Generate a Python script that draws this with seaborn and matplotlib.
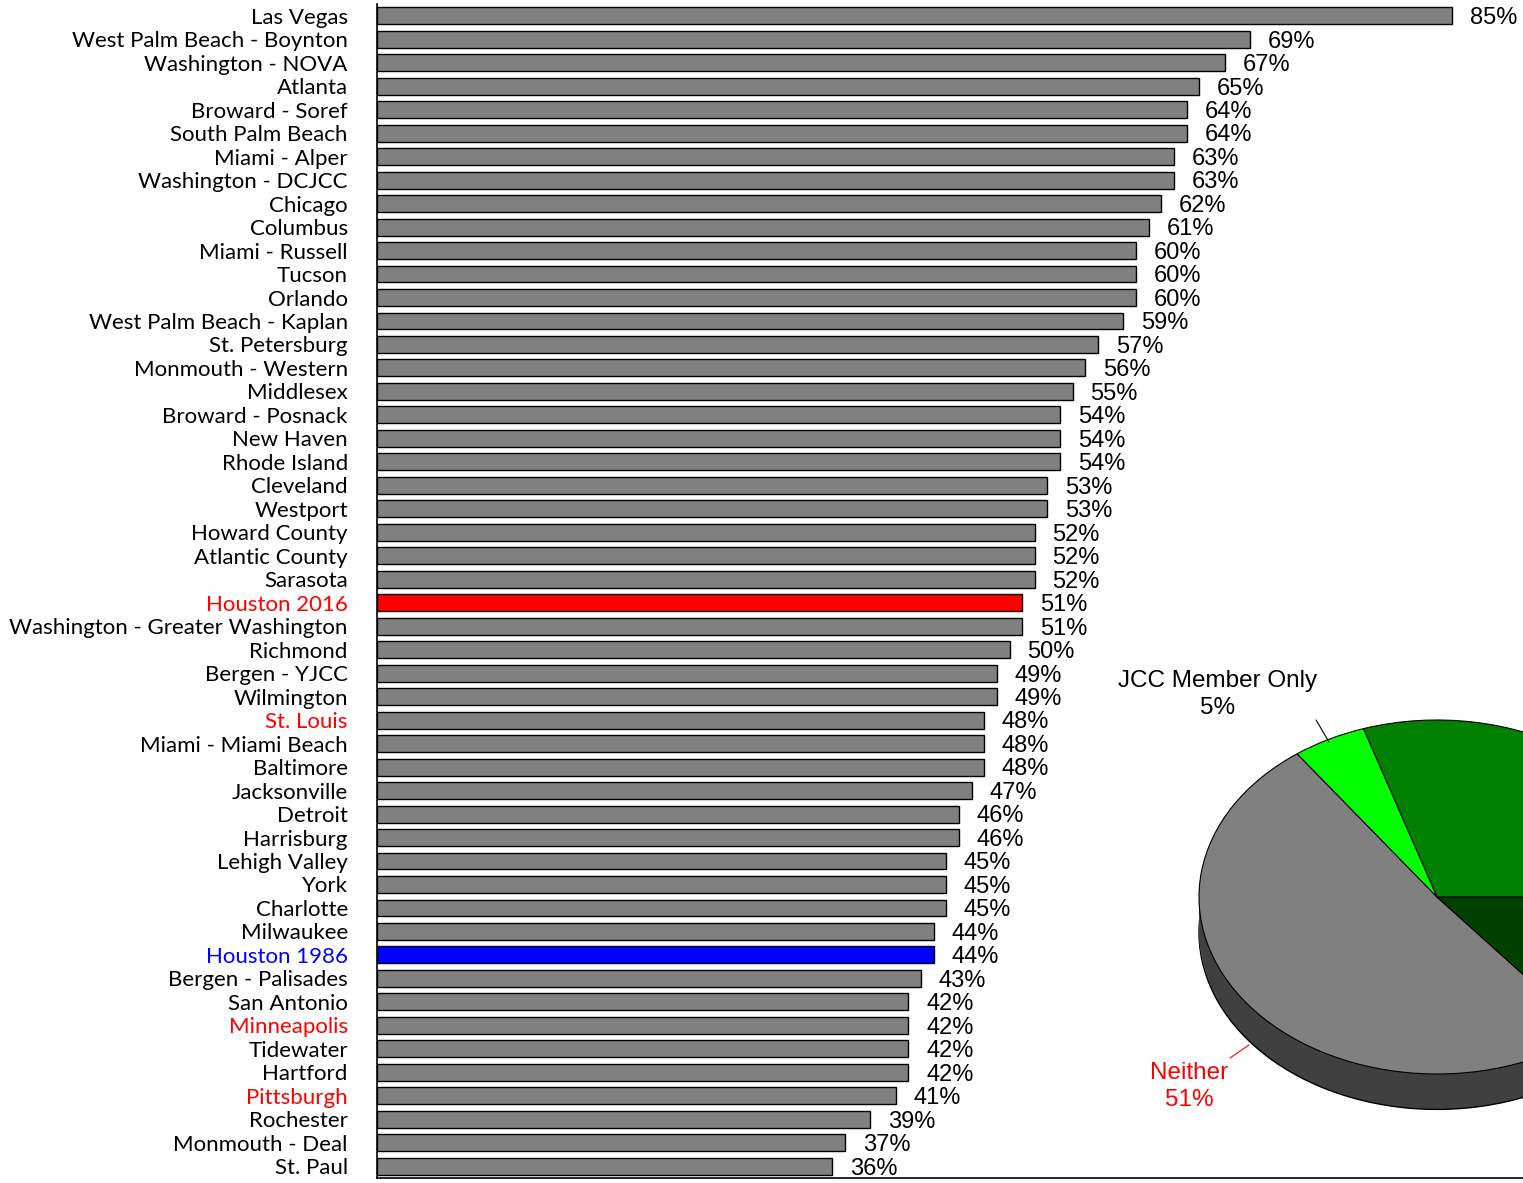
import numpy as np
import pandas as pd
import matplotlib
matplotlib.use("Agg")
import matplotlib.pyplot as plt
import seaborn as sns

# bar data (top to bottom)
cities = ["Las Vegas", "West Palm Beach - Boynton", "Washington - NOVA", "Atlanta",
          "Broward - Soref", "South Palm Beach", "Miami - Alper", "Washington - DCJCC",
          "Chicago", "Columbus", "Miami - Russell", "Tucson", "Orlando",
          "West Palm Beach - Kaplan", "St. Petersburg", "Monmouth - Western", "Middlesex",
          "Broward - Posnack", "New Haven", "Rhode Island", "Cleveland", "Westport",
          "Howard County", "Atlantic County", "Sarasota", "Houston 2016",
          "Washington - Greater Washington", "Richmond", "Bergen - YJCC", "Wilmington",
          "St. Louis", "Miami - Miami Beach", "Baltimore", "Jacksonville", "Detroit",
          "Harrisburg", "Lehigh Valley", "York", "Charlotte", "Milwaukee", "Houston 1986",
          "Bergen - Palisades", "San Antonio", "Minneapolis", "Tidewater", "Hartford",
          "Pittsburgh", "Rochester", "Monmouth - Deal", "St. Paul"]
values = [85, 69, 67, 65, 64, 64, 63, 63, 62, 61, 60, 60, 60, 59, 57, 56, 55, 54, 54, 54,
          53, 53, 52, 52, 52, 51, 51, 50, 49, 49, 48, 48, 48, 47, 46, 46, 45, 45, 45, 44,
          44, 43, 42, 42, 42, 42, 41, 39, 37, 36]
red_cities = ["Houston 2016", "St. Louis", "Minneapolis", "Pittsburgh"]
blue_cities = ["Houston 1986"]

# pie data (the last two labels are cropped out of the picture)
pie_labels = ["Neither", "Other", "Both", "JCC Member Only"]
pie_values = [51, 14, 30, 5]
pie_colors = ["#808080", "#004000", "#008000", "#00FF00"]
side_colors = ["#404040", "#002000", "#004000", "#008000"]

df = pd.DataFrame({"city": cities, "value": values})

def bar_color(c):
    if c == "Houston 2016":
        return "#FF0000"
    if c == "Houston 1986":
        return "#0000FF"
    return "#808080"

def label_color(c):
    if c in red_cities:
        return "#FF0000"
    if c in blue_cities:
        return "#0000FF"
    return "black"

sns.set_style("white")
plt.rcParams["font.family"] = ["Liberation Sans", "DejaVu Sans"]
plt.rcParams["text.color"] = "black"

W, H = 1523, 1183
fig = plt.figure(figsize=(W / 100, H / 100), dpi=100)

# -----------------------
# bar chart
ax = fig.add_axes([377 / W, 5 / H, 1 - 377 / W, (1178 - 4) / H])
sns.barplot(data=df, y="city", x="value", hue="city",
            palette=[bar_color(c) for c in cities], legend=False, saturation=1,
            orient="h", width=0.72, edgecolor="black", linewidth=1, ax=ax)
ax.set_xlim(0, (W - 377) / 12.65)
ax.set_ylim(len(cities) - 0.5, -0.5)
ax.set_xlabel("")
ax.set_ylabel("")
ax.set_xticks([])
ax.tick_params(axis="y", length=0, pad=21)
ax.set_yticks(range(len(cities)))
ax.set_yticklabels(cities, fontsize=16, family=["Lato", "DejaVu Sans"])
for lbl in ax.get_yticklabels():
    lbl.set_color(label_color(lbl.get_text()))
for i, v in enumerate(values):
    ax.text(v + 1.4, i + 0.1, f"{v}%", va="center", ha="left", fontsize=17,
            color="black")
for s in ["top", "right"]:
    ax.spines[s].set_visible(False)
for s in ["left", "bottom"]:
    ax.spines[s].set_color("black")
    ax.spines[s].set_linewidth(1.2)

# -----------------------
# 3D-looking pie
cx, cy, rx, ry = 1437, 897, 238, 177
y0, y1 = -1.3, 1.1
pax = fig.add_axes([(cx - rx) / W, (H - (cy - y0 * ry)) / H,
                    2 * rx / W, (y1 - y0) * ry / H])
depth = 0.2
pax.pie(pie_values, colors=side_colors, startangle=126, center=(0, -depth),
        wedgeprops=dict(edgecolor="black", linewidth=1))
for d in np.linspace(depth - 0.01, 0, 40):
    pax.pie(pie_values, colors=side_colors, startangle=126, center=(0, -d),
            wedgeprops=dict(edgecolor="none", linewidth=0))
pax.pie(pie_values, colors=pie_colors, startangle=126,
        wedgeprops=dict(edgecolor="black", linewidth=0.8))
pax.set_xlim(-1, 1)
pax.set_ylim(y0, y1)
pax.set_aspect("auto")
pax.axis("off")

# labels with leader lines
pax.plot([-0.508, -0.454], [1.0, 0.876], color="black", lw=0.8, clip_on=False)
pax.text(-0.924, 1.145, f"{pie_labels[3]}\n{pie_values[3]}%", ha="center",
         va="center", fontsize=17.5, color="black", linespacing=1.3)
pax.plot([-0.87, -0.79], [-0.91, -0.836], color="#FF0000", lw=0.8, clip_on=False)
pax.text(-1.04, -1.07, f"{pie_labels[0]}\n{pie_values[0]}%", ha="center",
         va="center", fontsize=17.5, color="#FF0000", linespacing=1.3)

plt.savefig("out.png", dpi=100)
